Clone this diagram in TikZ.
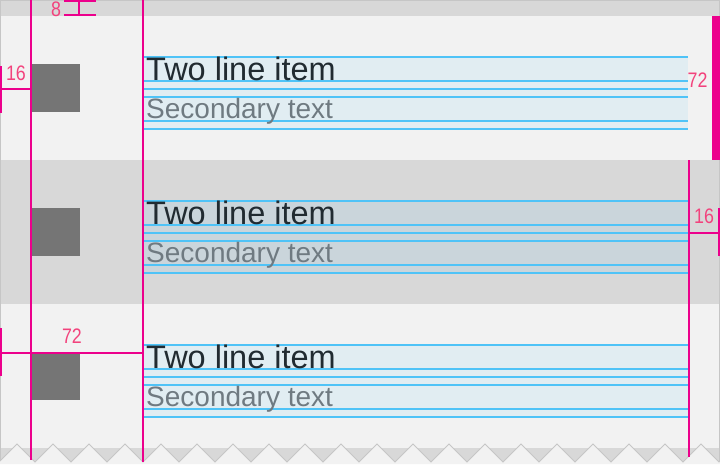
\documentclass[tikz,border=0pt]{standalone}
\usepackage{fontspec}
\setmainfont{Liberation Sans}
\newfontfamily\numfont[FakeStretch=0.85]{Liberation Sans}
\definecolor{mag}{HTML}{EC008C}
\definecolor{lbl}{HTML}{F2437D}
\definecolor{bgl}{HTML}{F2F2F2}
\definecolor{bgd}{HTML}{D8D8D8}
\definecolor{kl}{HTML}{4FC3F7}
\definecolor{iconc}{HTML}{757575}
\definecolor{pri}{HTML}{212B31}
\definecolor{sec}{HTML}{6F7A81}
\definecolor{edgec}{HTML}{C6C6C6}
\begin{document}
\begin{tikzpicture}[x=1pt,y=-1pt,
  magline/.style={draw=mag,line width=2pt},
  keyline/.style={draw=kl,line width=2pt},
  dimlabel/.style={text=lbl,font=\numfont\fontsize{21}{21}\selectfont,inner sep=0pt},
  primary/.style={anchor=base west,inner sep=0pt,text=pri,font=\fontsize{32.5}{32.5}\selectfont},
  secondary/.style={anchor=base west,inner sep=0pt,text=sec,font=\fontsize{28}{28}\selectfont},
  iconbox/.style={fill=iconc},
  edgeline/.style={draw=edgec,line width=1pt}]
\useasboundingbox (0,0) rectangle (720,464);
\fill[bgd] (0,0) rectangle (720,464);
\fill[bgl] (0,16) rectangle (720,160);
\fill[bgl] (0,304) rectangle (720,448);
% torn edge
\fill[bgl] (0,461) \foreach \k in {0,...,19} { -- ({17+36*\k},444) -- ({35+36*\k},462) } -- (720,461) -- (720,464) -- (0,464) -- cycle;
\draw[edgeline] (0,461) \foreach \k in {0,...,19} { -- ({17+36*\k},444) -- ({35+36*\k},462) } -- (720,461);
\draw[edgeline] (0.5,461) -- (0.5,0.5) -- (719.5,0.5) -- (719.5,461);
% list items
\foreach \t/\n in {16/a,160/b,304/c} {
  \fill[kl,opacity=0.1] (144,{\t+40}) rectangle (688,{\t+114});
  \foreach \d in {41,65,73,81,105,113} \draw[keyline] (144,{\t+\d}) -- (688,{\t+\d});
  \fill[iconbox] (32,{\t+48}) rectangle (80,{\t+96});
  \node[primary] (p\n) at (146,{\t+64}) {Two line item};
  \node[secondary] (s\n) at (146,{\t+102}) {Secondary text};
}
% keylines magenta
\draw[magline] (31,0) -- (31,460);
\draw[magline] (143,0) -- (143,462);
\draw[magline] (689,160) -- (689,457);
\fill[mag] (712,16) rectangle (720,160);
% 8
\draw[magline] (64,1) -- (96,1);
\draw[magline] (64,14.7) -- (96,14.7);
\draw[magline] (79.3,1) -- (79.3,14.7);
\node[dimlabel] (d8) at (56,8.8) {8};
% left 16
\draw[magline] (0,89) -- (30,89);
\draw[magline] (1,66) -- (1,113);
\node[dimlabel] (d16l) at (16,73.5) {16};
% right 16
\draw[magline] (689,233) -- (720,233);
\draw[magline] (719,208) -- (719,256);
\node[dimlabel] (d16r) at (704,216) {16};
% right 72
\node[dimlabel] (d72r) at (697.5,80) {72};
% bottom 72
\draw[magline] (0,353) -- (143,353);
\draw[magline] (1,328) -- (1,376);
\node[dimlabel] (d72b) at (72,336) {72};
\end{tikzpicture}
\end{document}
